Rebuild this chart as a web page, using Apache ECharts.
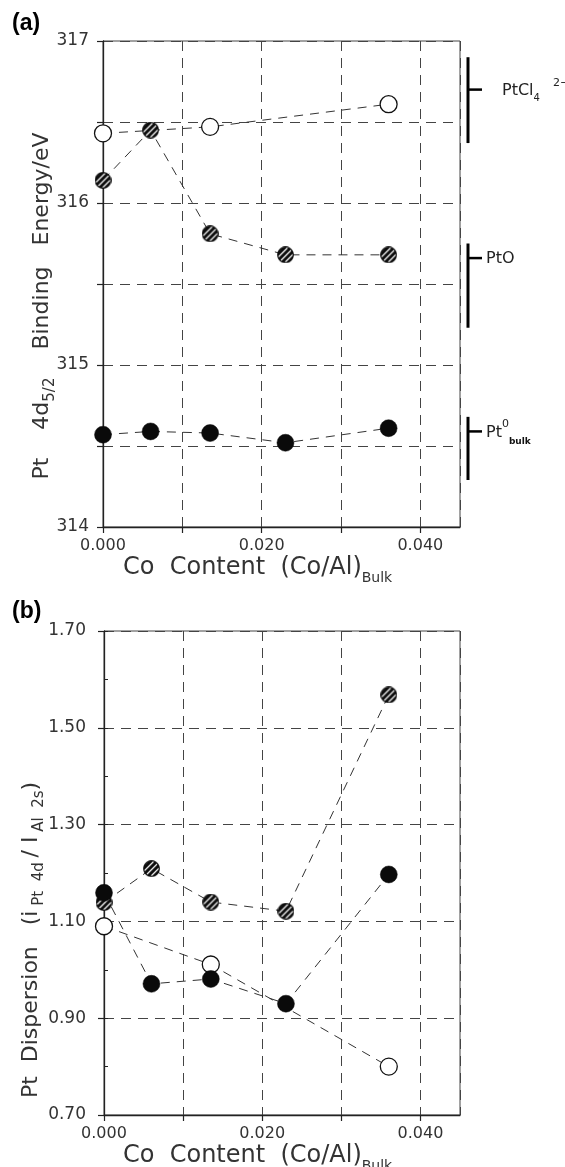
<!DOCTYPE html>
<html><head><meta charset="utf-8">
<script src="https://cdn.jsdelivr.net/npm/echarts@6/dist/echarts.min.js"></script>
<style>html,body{margin:0;padding:0;background:#fff}#c{width:565px;height:1167px}</style>
</head><body><div id="c"></div><script>
// ---- data: panel (a) Pt 4d5/2 binding energy ----
const xOpenA  = [0, 0.0135, 0.036];
const yOpenA  = [316.43, 316.47, 316.61];
const xHatchA = [0, 0.006, 0.0135, 0.023, 0.036];
const yHatchA = [316.14, 316.45, 315.81, 315.68, 315.68];
const xFillA  = [0, 0.006, 0.0135, 0.023, 0.036];
const yFillA  = [314.57, 314.59, 314.58, 314.52, 314.61];
// ---- data: panel (b) Pt dispersion ----
const xFillB  = [0, 0.006, 0.0135, 0.023, 0.036];
const yFillB  = [1.159, 0.971, 0.981, 0.930, 1.197];
const xHatchB = [0, 0.006, 0.0135, 0.023, 0.036];
const yHatchB = [1.139, 1.209, 1.140, 1.121, 1.568];
const xOpenB  = [0, 0.0135, 0.036];
const yOpenB  = [1.090, 1.011, 0.800];
// ---- tick labels ----
const xTickLabels = ['0.000', '0.020', '0.040'];
const yTickLabelsA = ['314', '315', '316', '317'];
const yTickLabelsB = ['0.70', '0.90', '1.10', '1.30', '1.50', '1.70'];
// ---- reference ranges (right side of panel a) ----
const refLow  = [316.37, 315.23, 314.29];
const refHigh = [316.90, 315.75, 314.68];
const refMark = [316.70, 315.66, 314.59];
const refText = ['{m|PtCl}{sub|4}', '{m|PtO}', '{m|Pt}{sup|0}{subb|bulk}'];
const refCharge = ['2−', '', ''];

const zip = (xs, ys) => xs.map((x, i) => [x, ys[i]]);
const FONT = 'DejaVu Sans';
const INK = '#222';

function hatchImg() {
  const S = 34, c = document.createElement('canvas');
  c.width = c.height = S;
  const g = c.getContext('2d');
  const r = S / 2 - 1.5;
  g.beginPath(); g.arc(S / 2, S / 2, r, 0, Math.PI * 2); g.fillStyle = '#0d0d0d'; g.fill();
  g.save(); g.clip();
  g.strokeStyle = '#fff'; g.lineWidth = 2.6;
  for (let k = -S; k < 2 * S; k += 12) { g.beginPath(); g.moveTo(k, S); g.lineTo(k + S, 0); g.stroke(); }
  g.restore();
  g.beginPath(); g.arc(S / 2, S / 2, r, 0, Math.PI * 2); g.strokeStyle = '#0d0d0d'; g.lineWidth = 2.4; g.stroke();
  return 'image://' + c.toDataURL();
}
const HATCH_SYMBOL = hatchImg();

function pick(list, v) {
  const f = list.find(t => Math.abs(parseFloat(t) - v) < 1e-6);
  return f || '';
}

const gridDash = { type: [10, 7], color: '#444', width: 1 };
const lineDash = { type: [9, 7], color: '#333', width: 1 };

function xAxisCfg(gi) {
  return {
    type: 'value', gridIndex: gi, min: 0, max: 0.045, interval: 0.01,
    axisLine: { show: true, onZero: false, lineStyle: { color: INK, width: 1.3 } },
    axisTick: { show: true, length: 6, lineStyle: { color: INK, width: 1.2 } },
    axisLabel: { formatter: v => pick(xTickLabels, v), fontFamily: FONT, fontSize: 16, color: '#333', margin: 11, showMaxLabel: false },
    splitLine: { show: true, lineStyle: gridDash }
  };
}

function seriesDefs(xg, yg, fill, hatch, open) {
  const base = { type: 'line', xAxisIndex: xg, yAxisIndex: yg, symbol: 'circle', symbolSize: 17,
    showAllSymbol: true, lineStyle: lineDash, animation: false, z: 3 };
  return [
    Object.assign({}, base, { name: 'open', data: open,
      itemStyle: { color: '#fff', borderColor: '#111', borderWidth: 1.3 } }),
    Object.assign({}, base, { name: 'hatched', data: hatch, symbol: HATCH_SYMBOL,
      itemStyle: { color: '#111' } }),
    Object.assign({}, base, { name: 'filled', data: fill,
      itemStyle: { color: '#0a0a0a', borderColor: '#0a0a0a', borderWidth: 0.5 } })
  ];
}

const chart = echarts.init(document.getElementById('c'), null, { renderer: 'canvas' });
chart.setOption({
  backgroundColor: '#fff',
  animation: false,
  grid: [
    { left: 103, top: 41, width: 357, height: 486, show: true, borderColor: '#444', borderWidth: 1 },
    { left: 104, top: 631, width: 356, height: 484, show: true, borderColor: '#444', borderWidth: 1 }
  ],
  xAxis: [xAxisCfg(0), xAxisCfg(1)],
  yAxis: [
    { type: 'value', gridIndex: 0, min: 314, max: 317, interval: 0.5,
      axisLine: { show: true, lineStyle: { color: INK, width: 1.3 } },
      axisTick: { show: true, length: 6, lineStyle: { color: INK, width: 1.2 } },
      axisLabel: { formatter: v => pick(yTickLabelsA, v), fontFamily: FONT, fontSize: 17, color: '#333', margin: 14 },
      splitLine: { show: true, lineStyle: gridDash } },
    { type: 'value', gridIndex: 1, min: 0.7, max: 1.7, interval: 0.2,
      axisLine: { show: true, lineStyle: { color: INK, width: 1.3 } },
      axisTick: { show: true, length: 6, lineStyle: { color: INK, width: 1.2 } },
      axisLabel: { formatter: v => pick(yTickLabelsB, v), fontFamily: FONT, fontSize: 17, color: '#333', margin: 18 },
      splitLine: { show: true, lineStyle: gridDash } },
    { type: 'value', gridIndex: 1, min: 0.7, max: 1.7, interval: 0.1, position: 'left',
      axisLine: { show: false }, axisLabel: { show: false }, splitLine: { show: false },
      axisTick: { show: true, inside: true, length: 4, lineStyle: { color: INK, width: 1 } } }
  ],
  series: [
    ...seriesDefs(0, 0, zip(xFillA, yFillA), zip(xHatchA, yHatchA), zip(xOpenA, yOpenA)),
    ...seriesDefs(1, 1, zip(xFillB, yFillB), zip(xHatchB, yHatchB), zip(xOpenB, yOpenB))
  ]
});

// ---- titles & annotations ----
const mkRich = (size, subSize) => ({
  m: { fontFamily: FONT, fontSize: size, lineHeight: size + 3, verticalAlign: 'middle', fill: '#333' },
  s: { fontFamily: FONT, fontSize: subSize, lineHeight: size + 10, verticalAlign: 'bottom', fill: '#333' }
});
const g = [];
g.push({ type: 'text', x: 12, y: 12, style: { text: '(a)', font: 'bold 23px "Liberation Sans"', fill: '#000' } });
g.push({ type: 'text', x: 12, y: 600, style: { text: '(b)', font: 'bold 23px "Liberation Sans"', fill: '#000' } });
g.push({ type: 'text', x: 42, y: 306, rotation: Math.PI / 2,
  style: { text: '{m|Pt    4d}{s|5/2}{m|    Binding   Energy/eV}', align: 'center', verticalAlign: 'middle',
    rich: mkRich(22, 15) } });
g.push({ type: 'text', x: 31, y: 940, rotation: Math.PI / 2,
  style: { text: '{m|Pt  Dispersion   (i}{s| Pt  4d }{m|/ I}{s| Al  2s}{m|)}', align: 'center', verticalAlign: 'middle',
    rich: mkRich(22, 15) } });
[568, 1156].forEach(y => {
  g.push({ type: 'text', x: 123, y: y,
    style: { text: '{m|Co  Content  (Co/Al)}{s|Bulk}', align: 'left', verticalAlign: 'middle',
      rich: mkRich(24, 14) } });
});
const xRight = chart.convertToPixel({ xAxisIndex: 0 }, 0.045);
const barX = xRight + 8;
const annRich = {
  m: { fontFamily: FONT, fontSize: 16, lineHeight: 20, verticalAlign: 'middle', fill: '#222' },
  sub: { fontFamily: FONT, fontSize: 10, lineHeight: 26, verticalAlign: 'bottom', fill: '#222' },
  sup: { fontFamily: FONT, fontSize: 11, lineHeight: 12, verticalAlign: 'top', fill: '#222' },
  subb: { fontFamily: FONT, fontSize: 9, fontWeight: 'bold', lineHeight: 28, verticalAlign: 'bottom', fill: '#111' }
};
const labelDx = [34, 18, 18];
refLow.forEach((lo, i) => {
  const y0 = chart.convertToPixel({ yAxisIndex: 0 }, refHigh[i]);
  const y1 = chart.convertToPixel({ yAxisIndex: 0 }, lo);
  const ym = chart.convertToPixel({ yAxisIndex: 0 }, refMark[i]);
  g.push({ type: 'line', shape: { x1: barX, y1: y0, x2: barX, y2: y1 }, style: { stroke: '#000', lineWidth: 3 } });
  g.push({ type: 'line', shape: { x1: barX, y1: ym, x2: barX + 14, y2: ym }, style: { stroke: '#000', lineWidth: 2.5 } });
  g.push({ type: 'text', x: barX + labelDx[i], y: ym + 1,
    style: { text: refText[i], align: 'left', verticalAlign: 'middle', rich: annRich } });
  if (refCharge[i]) {
    g.push({ type: 'text', x: barX + 85, y: ym - 6,
      style: { text: refCharge[i], align: 'left', verticalAlign: 'middle', fontFamily: FONT, fontSize: 11, fill: '#222' } });
  }
});
chart.setOption({ graphic: g });
</script></body></html>
